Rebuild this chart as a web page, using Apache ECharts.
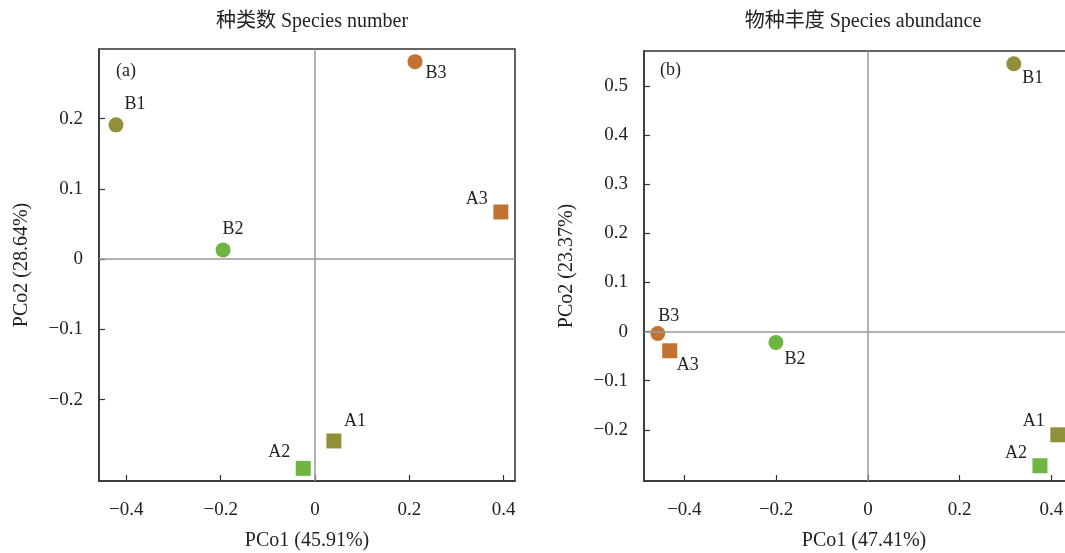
<!DOCTYPE html>
<html><head><meta charset="utf-8">
<script src="https://cdn.jsdelivr.net/npm/echarts@6/dist/echarts.min.js"></script>
<style>html,body{margin:0;padding:0;background:#fff}#c{width:1065px;height:553px}</style>
</head><body><div id="c"></div>
<script>
// Data
const sampleNames = ['B1','B2','B3','A1','A2','A3'];
const xNumber = [-0.422, -0.195, 0.212, 0.040, -0.025, 0.394];
const yNumber = [0.191, 0.013, 0.281, -0.259, -0.298, 0.067];
const xAbundance = [0.318, -0.2005, -0.458, 0.414, 0.375, -0.432];
const yAbundance = [0.545, -0.022, -0.004, -0.210, -0.273, -0.039];
const xTicksA = [-0.4, -0.2, 0, 0.2, 0.4];
const yTicksA = [-0.2, -0.1, 0, 0.1, 0.2];
const xTicksB = [-0.4, -0.2, 0, 0.2, 0.4];
const yTicksB = [-0.2, -0.1, 0, 0.1, 0.2, 0.3, 0.4, 0.5];

// Styles
const colorOf = {'1':'#928f3b','2':'#6fb543','3':'#c27332'};
const offsetsA = {B1:[19,-21],B2:[10,-21],B3:[21,12],A1:[21,-20],A2:[-24,-16],A3:[-24,-13]};
const offsetsB = {B1:[19,14],B2:[19,17],B3:[11,-17],A1:[-24,-14],A2:[-24,-13],A3:[18,14]};
const serif = '"Liberation Serif","DejaVu Serif",serif';
const txt = '#222';

function fmt(v){ if (Math.abs(v) < 1e-9) return '0'; return (v<0?'\u2212':'') + Math.abs(v).toFixed(1); }

function points(xs, ys, offsets){
  return sampleNames.map((n,i)=>({
    name:n, value:[xs[i], ys[i]],
    symbol: n[0]==='B' ? 'circle' : 'rect',
    symbolSize: 15,
    itemStyle:{color: colorOf[n[1]], opacity:1},
    label:{show:true, formatter:n, position:'inside', offset:offsets[n], color:txt, opacity:1, fontFamily:serif, fontSize:18}
  }));
}

function xAxisCfg(grid, min, max, ticks, name){
  return {gridIndex:grid, type:'value', min:min, max:max, name:name, nameLocation:'middle', nameGap:50,
    nameTextStyle:{fontFamily:serif, fontSize:20, color:txt},
    axisLine:{show:true, onZero:false, lineStyle:{color:'#333', width:1.5}},
    axisTick:{show:true, inside:true, length:6, customValues:ticks, lineStyle:{color:'#333', width:1.2}},
    axisLabel:{customValues:ticks, formatter:fmt, margin:20, fontFamily:serif, fontSize:19, color:txt},
    splitLine:{show:false}};
}
function yAxisCfg(grid, min, max, ticks, name){
  return {gridIndex:grid, type:'value', min:min, max:max, name:name, nameLocation:'middle', nameGap:67,
    nameTextStyle:{fontFamily:serif, fontSize:20, color:txt},
    axisLine:{show:true, onZero:false, lineStyle:{color:'#333', width:1.5}},
    axisTick:{show:true, inside:true, length:6, customValues:ticks, lineStyle:{color:'#333', width:1.2}},
    axisLabel:{customValues:ticks, formatter:fmt, margin:16, fontFamily:serif, fontSize:19, color:txt},
    splitLine:{show:false}};
}
const zeroLines = {silent:true, symbol:'none', label:{show:false}, lineStyle:{color:'#999', width:1.5, type:'solid', opacity:1},
  data:[{xAxis:0},{yAxis:0}], animation:false};

const titleFont = '"Liberation Serif","Noto Sans CJK SC",serif';
const chart = echarts.init(document.getElementById('c'), null, {renderer:'canvas'});
chart.setOption({
  animation:false,
  backgroundColor:'#fff',
  title:[
    {text:'种类数 Species number', left:307, top:7, textAlign:'center',
      textStyle:{fontFamily:titleFont, fontWeight:'normal', fontSize:20, color:txt}},
    {text:'物种丰度 Species abundance', left:858, top:7, textAlign:'center',
      textStyle:{fontFamily:titleFont, fontWeight:'normal', fontSize:20, color:txt}}
  ],
  graphic:[
    {type:'text', left:116, top:62, style:{text:'(a)', font:'18px ' + serif, fill:txt}},
    {type:'text', left:660, top:61, style:{text:'(b)', font:'18px ' + serif, fill:txt}}
  ],
  grid:[
    {left:99, top:49, width:416, height:432, show:true, borderColor:'#333', borderWidth:1.5, containLabel:false, outerBoundsMode:'none'},
    {left:644, top:51, width:440, height:430, show:true, borderColor:'#333', borderWidth:1.5, containLabel:false, outerBoundsMode:'none'}
  ],
  xAxis:[
    xAxisCfg(0, -0.458, 0.424, xTicksA, 'PCo1 (45.91%)'),
    xAxisCfg(1, -0.488, 0.471, xTicksB, 'PCo1 (47.41%)')
  ],
  yAxis:[
    yAxisCfg(0, -0.316, 0.299, yTicksA, 'PCo2 (28.64%)'),
    yAxisCfg(1, -0.304, 0.571, yTicksB, 'PCo2 (23.37%)')
  ],
  series:[
    {type:'scatter', xAxisIndex:0, yAxisIndex:0, data:points(xNumber, yNumber, offsetsA), markLine:zeroLines, z:3},
    {type:'scatter', xAxisIndex:1, yAxisIndex:1, data:points(xAbundance, yAbundance, offsetsB), markLine:zeroLines, z:3}
  ]
});
</script></body></html>
